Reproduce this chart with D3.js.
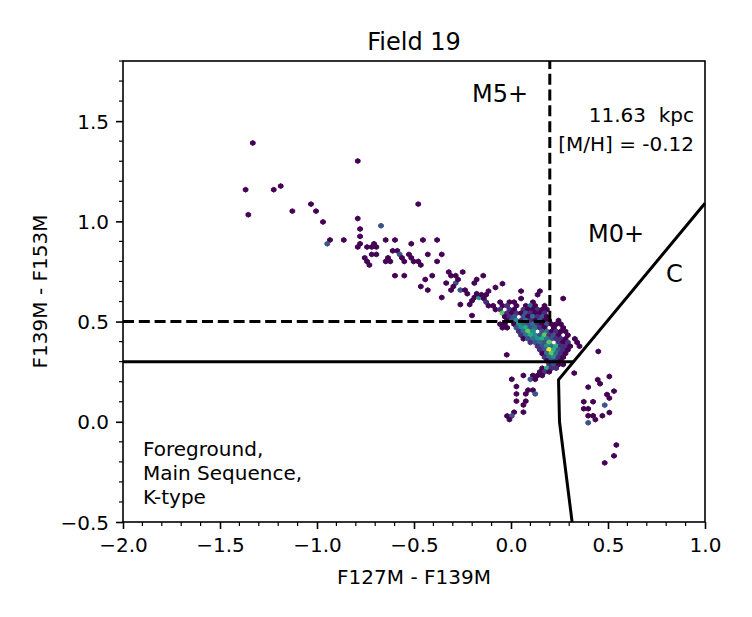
<!DOCTYPE html>
<html>
<head>
<meta charset="utf-8">
<script src="https://cdn.jsdelivr.net/npm/d3@7"></script>
<style>
  body { margin: 0; background: #fff; }
  text { font-family: "DejaVu Sans", sans-serif; fill: #000; }
</style>
</head>
<body>
<div id="chart"></div>
<script>
// hexbin cells: [colour1, colour2, count]
const isolatedCells = [
  [-1.331,1.391,1],[-0.790,1.301,1],[-1.368,1.158,1],[-1.223,1.158,1],[-1.187,1.176,1],
  [-1.354,1.033,1],[-1.127,1.051,1],[-1.031,1.086,1],[-1.005,1.051,1],[-0.969,0.997,1],
  [-0.790,1.014,1],[-0.778,0.962,1],[-0.778,0.925,1],[-0.933,0.907,1],[-0.947,0.888,3],
  [-0.862,0.907,1],[-0.778,0.888,1],[-0.790,0.872,1],[-0.742,0.872,1],[-0.718,0.872,1],
  [-0.706,0.888,1],[-0.694,0.872,1],[-0.718,0.835,1],[-0.694,0.835,1],[-0.754,0.818,1],
  [-0.742,0.800,1],[-0.730,0.782,1],[-0.670,0.978,3],[-0.646,0.907,1],[-0.598,0.907,1],
  [-0.478,1.086,1],[-0.514,0.888,1],[-0.454,0.907,1],[-0.381,0.907,1],[-0.610,0.853,1],
  [-0.586,0.853,1],[-0.574,0.835,3],[-0.526,0.835,1],[-0.634,0.818,1],[-0.646,0.800,1],
  [-0.622,0.800,1],[-0.562,0.818,1],[-0.550,0.800,1],[-0.514,0.818,1],[-0.502,0.800,1],
  [-0.478,0.800,1],[-0.465,0.782,1],[-0.429,0.835,1],[-0.357,0.835,1],[-0.381,0.800,1],
  [-0.598,0.729,1],[-0.550,0.729,1],[-0.442,0.710,1],[-0.406,0.729,1],[-0.321,0.747,1],
  [-0.309,0.729,1],[-0.285,0.729,1],[-0.249,0.747,1],[-0.465,0.675,1],[-0.429,0.657,1],
  [-0.334,0.692,1],[-0.285,0.692,3],[-0.273,0.710,1],[-0.297,0.675,1],[-0.309,0.657,1],
  [-0.261,0.657,3],[-0.237,0.657,1],[-0.225,0.639,1],[-0.189,0.692,1],[-0.177,0.710,1],
  [-0.357,0.620,1],[-0.261,0.585,1],[-0.213,0.585,1],[-0.201,0.604,1],[-0.189,0.620,1],
  [-0.165,0.620,5],[-0.177,0.639,1],[-0.201,0.530,1],[-0.143,0.729,1],
  [-0.022,0.334,1],[0.450,0.351,1]
];

const clusterCells = [
  [-0.044,0.689,1],
  [-0.080,0.670,1],
  [-0.116,0.652,1],[0.052,0.652,1],[0.149,0.652,1],
  [-0.152,0.634,1],[-0.128,0.634,1],[0.137,0.634,1],
  [-0.140,0.615,1],[0.052,0.615,1],[0.269,0.615,1],
  [-0.128,0.597,2],[-0.056,0.597,1],[-0.008,0.597,1],[0.016,0.597,1],[0.113,0.597,1],
  [-0.116,0.579,1],[-0.092,0.579,1],[-0.044,0.579,1],[-0.020,0.579,2],[0.028,0.579,1],
  [0.076,0.579,1],[0.100,0.579,4],[0.125,0.579,1],[0.173,0.579,1],
  [-0.080,0.560,1],[-0.056,0.560,2],[-0.008,0.560,2],[0.016,0.560,1],[0.064,0.560,2],
  [0.088,0.560,1],[0.113,0.560,1],[0.137,0.560,2],[0.161,0.560,1],[0.185,0.560,1],
  [-0.044,0.542,7],[-0.020,0.542,2],[0.004,0.542,1],[0.028,0.542,2],[0.052,0.542,1],
  [0.076,0.542,3],[0.100,0.542,2],[0.125,0.542,1],[0.149,0.542,1],[0.173,0.542,2],
  [-0.032,0.524,1],[-0.008,0.524,2],[0.016,0.524,3],[0.064,0.524,3],[0.088,0.524,1],
  [0.113,0.524,4],[0.137,0.524,2],[0.161,0.524,3],[0.185,0.524,1],
  [-0.020,0.505,1],[0.004,0.505,3],[0.028,0.505,5],[0.052,0.505,2],[0.076,0.505,4],
  [0.100,0.505,2],[0.125,0.505,1],[0.149,0.505,3],[0.173,0.505,1],[0.197,0.505,1],[0.245,0.505,1],
  [-0.056,0.487,1],[-0.032,0.487,1],[0.016,0.487,1],[0.040,0.487,5],[0.064,0.487,4],
  [0.088,0.487,3],[0.113,0.487,4],[0.137,0.487,2],[0.161,0.487,1],[0.185,0.487,3],
  [0.209,0.487,1],[0.233,0.487,1],[0.257,0.487,1],
  [-0.044,0.469,1],[-0.020,0.469,1],[0.028,0.469,3],[0.052,0.469,5],[0.076,0.469,6],
  [0.100,0.469,3],[0.125,0.469,4],[0.149,0.469,2],[0.173,0.469,1],[0.221,0.469,1],[0.269,0.469,1],
  [0.040,0.451,2],[0.064,0.451,4],[0.088,0.451,7],[0.113,0.451,5],[0.161,0.451,3],
  [0.185,0.451,4],[0.209,0.451,1],[0.233,0.451,2],[0.257,0.451,1],[0.281,0.451,1],
  [0.052,0.432,2],[0.076,0.432,4],[0.100,0.432,6],[0.125,0.432,5],[0.149,0.432,3],
  [0.173,0.432,7],[0.197,0.432,2],[0.221,0.432,3],[0.245,0.432,1],[0.293,0.432,1],
  [0.064,0.414,1],[0.088,0.414,3],[0.113,0.414,4],[0.137,0.414,5],[0.161,0.414,6],
  [0.185,0.414,4],[0.209,0.414,3],[0.233,0.414,2],[0.257,0.414,2],[0.281,0.414,1],[0.329,0.414,1],
  [0.100,0.396,2],[0.125,0.396,3],[0.149,0.396,4],[0.173,0.396,3],[0.197,0.396,7],
  [0.245,0.396,2],[0.269,0.396,1],[0.293,0.396,2],[0.341,0.396,1],
  [0.137,0.377,2],[0.161,0.377,3],[0.185,0.377,5],[0.209,0.377,4],[0.233,0.377,6],
  [0.257,0.377,2],[0.281,0.377,2],[0.305,0.377,1],[0.353,0.377,1],
  [0.149,0.359,2],[0.173,0.359,3],[0.197,0.359,9],[0.221,0.359,6],[0.245,0.359,3],
  [0.269,0.359,2],[0.293,0.359,1],
  [0.161,0.341,1],[0.185,0.341,4],[0.209,0.341,7],[0.233,0.341,4],[0.257,0.341,2],[0.281,0.341,1],
  [0.173,0.322,2],[0.197,0.322,4],[0.221,0.322,5],[0.245,0.322,2],[0.269,0.322,1],
  [0.185,0.304,1],[0.209,0.304,3],[0.233,0.304,2],[0.257,0.304,1],
  [0.197,0.286,2],[0.221,0.286,3],[0.245,0.286,1],[0.269,0.286,1],
  [0.161,0.267,1],[0.185,0.267,6],[0.209,0.267,2],[0.233,0.267,2],
  [0.149,0.249,1],[0.173,0.249,2],[0.197,0.249,1],
  [0.064,0.231,1],[0.113,0.231,1],[0.137,0.231,1],[0.161,0.231,1],
  [0.004,0.212,1],[0.100,0.212,3],[0.125,0.212,1]
];

const tailCells = [
  [0.028,0.176,1],[0.088,0.158,1],[0.113,0.158,1],[0.125,0.139,3],[0.076,0.139,1],
  [0.028,0.139,1],[0.028,0.103,1],[0.076,0.103,1],[0.064,0.084,1],[0.016,0.048,1],
  [0.064,0.048,1],[-0.020,0.029,1],[0.004,0.029,3],[-0.008,0.011,1]
];

const rightCells = [
  [0.326,0.243,1],[0.398,0.173,1],[0.447,0.210,1],[0.459,0.190,1],[0.507,0.226,1],
  [0.531,0.153,1],[0.495,0.136,1],[0.507,0.118,1],[0.375,0.100,1],[0.423,0.100,1],
  [0.483,0.083,3],[0.375,0.065,1],[0.398,0.065,1],[0.398,0.030,1],[0.423,0.030,1],
  [0.435,0.011,1],[0.471,0.030,1],[0.507,0.046,1],[0.398,-0.005,3],[0.543,-0.116,1],
  [0.531,-0.170,1],[0.483,-0.205,1]
];

const xTicks = [-2.0, -1.5, -1.0, -0.5, 0.0, 0.5, 1.0];
const yTicks = [-0.5, 0.0, 0.5, 1.0, 1.5];
const xDomain = [-2.0, 1.0];
const yDomain = [-0.5, 1.8];

// region boundaries
const dashedBoundary = [[-2.0, 0.5], [0.2, 0.5], [0.2, 1.8]];
const solidBoundary = [[-2.0, 0.3], [0.321, 0.3]];
const cBoundary = [[1.0, 1.09], [0.245, 0.21], [0.25, 0.0], [0.315, -0.5]];

const titleText = "Field 19";
const xLabel = "F127M - F139M";
const yLabel = "F139M - F153M";
const distanceText = "11.63  kpc";
const metalText = "[M/H] = -0.12";
const foregroundLines = ["Foreground,", "Main Sequence,", "K-type"];

// hex grid spacing in data units
const hexDx = 0.02407;
const hexDy = 0.03663;

const W = 752, H = 617;
const margin = {left: 123, right: 47, top: 61, bottom: 95};

const svg = d3.select("#chart").append("svg")
  .attr("width", W).attr("height", H);

const x = d3.scaleLinear().domain(xDomain).range([margin.left, W - margin.right]);
const y = d3.scaleLinear().domain(yDomain).range([H - margin.bottom, margin.top]);

const cells = isolatedCells.concat(clusterCells, tailCells, rightCells);
const maxCount = d3.max(cells, d => d[2]);
const color = d3.scaleSequential(d3.interpolateViridis).domain([1, maxCount]);

// matplotlib-style pointy hexagon
const hw = (x(hexDx) - x(0)) / 2;
const hv = (y(0) - y(hexDy)) / 3;
function hexPath(d) {
  const cx = x(d[0]), cy = y(d[1]);
  return `M${cx + hw},${cy - hv / 2}L${cx + hw},${cy + hv / 2}L${cx},${cy + hv}` +
         `L${cx - hw},${cy + hv / 2}L${cx - hw},${cy - hv / 2}L${cx},${cy - hv}Z`;
}

svg.append("g")
  .selectAll("path")
  .data(cells)
  .enter().append("path")
  .attr("d", hexPath)
  .attr("fill", d => color(d[2]))
  .attr("stroke", d => color(d[2]))
  .attr("stroke-width", 1);

const line = d3.line().x(d => x(d[0])).y(d => y(d[1]));

svg.append("path").attr("d", line(dashedBoundary))
  .attr("fill", "none").attr("stroke", "#000").attr("stroke-width", 3)
  .attr("stroke-dasharray", "11,4.8");
svg.append("path").attr("d", line(solidBoundary))
  .attr("fill", "none").attr("stroke", "#000").attr("stroke-width", 3);
svg.append("path").attr("d", line(cBoundary))
  .attr("fill", "none").attr("stroke", "#000").attr("stroke-width", 3)
  .attr("stroke-linejoin", "miter");

// axes
const xAxis = svg.append("g").attr("transform", `translate(0,${y(yDomain[0])})`)
  .call(d3.axisBottom(x).tickValues(xTicks).tickSize(7).tickPadding(9)
    .tickFormat(d => d3.format(".1f")(d).replace("-", "\u2212")));
const yAxis = svg.append("g").attr("transform", `translate(${x(xDomain[0])},0)`)
  .call(d3.axisLeft(y).tickValues(yTicks).tickSize(7).tickPadding(7)
    .tickFormat(d => d3.format(".1f")(d).replace("-", "\u2212")));

[xAxis, yAxis].forEach(g => {
  g.select(".domain").remove();
  g.selectAll(".tick line").attr("stroke", "#000").attr("stroke-width", 1.6);
  g.selectAll(".tick text").attr("font-size", 20).attr("fill", "#000")
    .style("font-family", "'DejaVu Sans', sans-serif");
});
yAxis.selectAll(".tick text").attr("dy", "0.36em");

// minor ticks
const xMinor = d3.range(-19, 10).map(i => i / 10).filter(v => Math.abs(v * 2 - Math.round(v * 2)) > 1e-6);
const yMinor = d3.range(-4, 19).map(i => i / 10).filter(v => Math.abs(v * 2 - Math.round(v * 2)) > 1e-6);
svg.append("g").selectAll("line").data(xMinor).enter().append("line")
  .attr("x1", d => x(d)).attr("x2", d => x(d))
  .attr("y1", y(yDomain[0])).attr("y2", y(yDomain[0]) + 4)
  .attr("stroke", "#000").attr("stroke-width", 1.2);
svg.append("g").selectAll("line").data(yMinor).enter().append("line")
  .attr("y1", d => y(d)).attr("y2", d => y(d))
  .attr("x1", x(xDomain[0])).attr("x2", x(xDomain[0]) - 4)
  .attr("stroke", "#000").attr("stroke-width", 1.2);

// frame
svg.append("rect")
  .attr("x", x(xDomain[0])).attr("y", y(yDomain[1]))
  .attr("width", x(xDomain[1]) - x(xDomain[0]))
  .attr("height", y(yDomain[0]) - y(yDomain[1]))
  .attr("fill", "none").attr("stroke", "#000").attr("stroke-width", 1.6);

// texts
svg.append("text").attr("x", (x(xDomain[0]) + x(xDomain[1])) / 2).attr("y", 50)
  .attr("text-anchor", "middle").attr("font-size", 24).text(titleText);
svg.append("text").attr("x", (x(xDomain[0]) + x(xDomain[1])) / 2).attr("y", 584)
  .attr("text-anchor", "middle").attr("font-size", 20).text(xLabel);
svg.append("text")
  .attr("transform", `translate(47,${(y(yDomain[0]) + y(yDomain[1])) / 2}) rotate(-90)`)
  .attr("text-anchor", "middle").attr("font-size", 20).text(yLabel);

svg.append("text").attr("x", 694).attr("y", 122).attr("text-anchor", "end")
  .attr("font-size", 20).style("white-space", "pre").text(distanceText);
svg.append("text").attr("x", 694).attr("y", 151).attr("text-anchor", "end")
  .attr("font-size", 20).text(metalText);

svg.append("text").attr("x", 472).attr("y", 102).attr("font-size", 24).text("M5+");
svg.append("text").attr("x", 588).attr("y", 242).attr("font-size", 24).text("M0+");
svg.append("text").attr("x", 666).attr("y", 282).attr("font-size", 24).text("C");

svg.append("g").selectAll("text").data(foregroundLines).enter().append("text")
  .attr("x", 143).attr("y", (d, i) => 456 + i * 24)
  .attr("font-size", 20).text(d => d);
</script>
</body>
</html>
